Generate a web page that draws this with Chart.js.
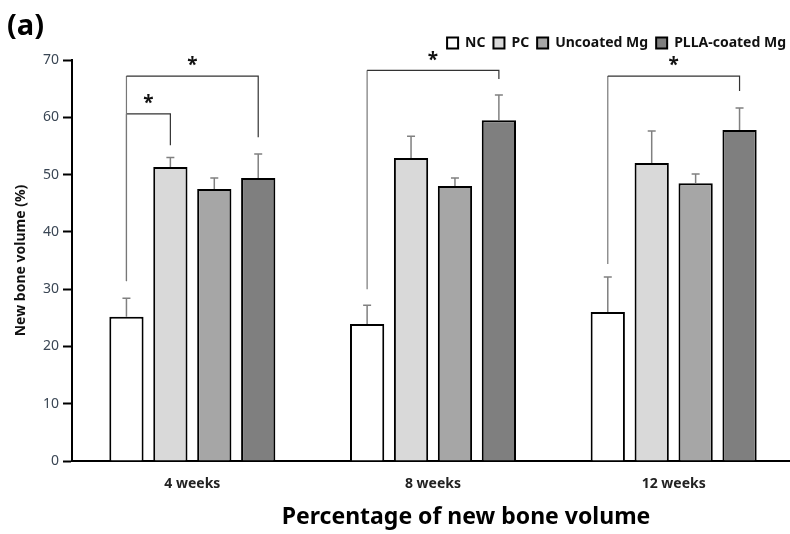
<!DOCTYPE html>
<html>
<head>
<meta charset="utf-8">
<script src="https://cdn.jsdelivr.net/npm/chart.js@4"></script>
<style>
  body { margin: 0; overflow: hidden; background: #fff; }
  #wrap { width: 796px; height: 534px; }
</style>
</head>
<body>
<div id="wrap"><canvas id="myChart" width="796" height="534"></canvas></div>
<script>
const weeks = ["4 weeks", "8 weeks", "12 weeks"];
const groups = ["NC", "PC", "Uncoated Mg", "PLLA-coated Mg"];
const ncValues = [25.2, 23.9, 26.0];
const pcValues = [51.3, 52.9, 52.0];
const uncoatedValues = [47.5, 48.0, 48.5];
const pllaValues = [49.4, 59.5, 57.8];
const ncErrors = [3.2, 3.3, 6.1];
const pcErrors = [1.7, 3.8, 5.6];
const uncoatedErrors = [1.9, 1.4, 1.6];
const pllaErrors = [4.2, 4.4, 3.8];
const yTicks = [0, 10, 20, 30, 40, 50, 60, 70];

// significance brackets: week index, from/to group, bracket height, line ends
const bracketWeek = [0, 0, 1, 2];
const bracketFrom = [0, 0, 0, 0];
const bracketTo = [1, 3, 3, 3];
const bracketTop = [60.6, 67.2, 68.2, 67.2];
const bracketLeftEnd = [31.4, 31.4, 30.0, 34.4];
const bracketRightEnd = [55.1, 56.5, 66.7, 64.6];

const fills = ["#ffffff", "#d9d9d9", "#a6a6a6", "#7f7f7f"];
const allValues = [ncValues, pcValues, uncoatedValues, pllaValues];
const allErrors = [ncErrors, pcErrors, uncoatedErrors, pllaErrors];

const font = "'Noto Sans', 'DejaVu Sans', sans-serif";

const extras = {
  id: "extras",
  afterDatasetsDraw(chart) {
    const ctx = chart.ctx;
    const y = chart.scales.y;
    ctx.save();

    // error bars
    ctx.strokeStyle = "#808080";
    ctx.lineWidth = 1.5;
    allErrors.forEach((errs, d) => {
      const meta = chart.getDatasetMeta(d);
      errs.forEach((e, i) => {
        const bar = meta.data[i];
        const top = y.getPixelForValue(allValues[d][i] + e);
        ctx.beginPath();
        ctx.moveTo(bar.x, bar.y);
        ctx.lineTo(bar.x, top);
        ctx.moveTo(bar.x - 4, top);
        ctx.lineTo(bar.x + 4, top);
        ctx.stroke();
      });
    });

    // brackets
    bracketWeek.forEach((w, k) => {
      const x1 = chart.getDatasetMeta(bracketFrom[k]).data[w].x;
      const x2 = chart.getDatasetMeta(bracketTo[k]).data[w].x;
      const yt = y.getPixelForValue(bracketTop[k]);
      ctx.lineWidth = 1.2;
      ctx.strokeStyle = "#777";
      ctx.beginPath();
      ctx.moveTo(x1, y.getPixelForValue(bracketLeftEnd[k]));
      ctx.lineTo(x1, yt);
      ctx.stroke();
      ctx.strokeStyle = "#333";
      ctx.beginPath();
      ctx.moveTo(x1, yt);
      ctx.lineTo(x2, yt);
      ctx.lineTo(x2, y.getPixelForValue(bracketRightEnd[k]));
      ctx.stroke();
      ctx.fillStyle = "#111";
      ctx.font = "bold 19px " + font;
      ctx.textAlign = "center";
      ctx.textBaseline = "middle";
      ctx.fillText("*", (x1 + x2) / 2, yt - 10);
    });

    // panel label and x title
    ctx.fillStyle = "#000";
    ctx.textAlign = "left";
    ctx.textBaseline = "alphabetic";
    ctx.font = "bold 29px " + font;
    ctx.fillText("(a)", 7, 35);
    ctx.textAlign = "center";
    ctx.font = "bold 23px " + font;
    ctx.fillText("Percentage of new bone volume", 466, 524);
    ctx.restore();
  }
};

new Chart(document.getElementById("myChart"), {
  type: "bar",
  data: {
    labels: weeks,
    datasets: groups.map((g, d) => ({
      label: g,
      data: allValues[d],
      backgroundColor: fills[d],
      borderColor: "#000",
      borderWidth: 2,
      borderSkipped: "bottom",
      categoryPercentage: 0.73,
      barPercentage: 0.78,
    })),
  },
  options: {
    responsive: false,
    animation: false,
    layout: { padding: { top: 28, right: 2, left: 0, bottom: 0 } },
    plugins: {
      legend: {
        position: "top",
        align: "end",
        labels: {
          boxWidth: 11,
          boxHeight: 11,
          padding: 8,
          color: "#111",
          font: { family: font, size: 14, weight: "bold" },
        },
      },
      tooltip: { enabled: false },
    },
    scales: {
      x: {
        grid: { display: false },
        border: { display: true, color: "#000", width: 2 },
        ticks: {
          padding: 7,
          color: "#222",
          font: { family: font, size: 14, weight: "bold" },
        },
        afterFit: (scale) => { scale.height = 73; },
      },
      y: {
        min: 0,
        max: 70,
        afterBuildTicks: (scale) => { scale.ticks = yTicks.map((v) => ({ value: v })); },
        grid: {
          drawOnChartArea: false,
          drawTicks: true,
          tickLength: 9,
          tickWidth: 2,
          tickColor: "#000",
        },
        border: { display: true, color: "#000", width: 2 },
        ticks: {
          padding: 4,
          color: "#3a4654",
          font: { family: font, size: 14 },
        },
        title: {
          display: true,
          text: "New bone volume (%)",
          color: "#111",
          padding: { top: 13, bottom: 0 },
          font: { family: font, size: 14, weight: "bold" },
        },
        afterFit: (scale) => { scale.width = 72; },
      },
    },
  },
  plugins: [extras],
});
</script>
</body>
</html>
